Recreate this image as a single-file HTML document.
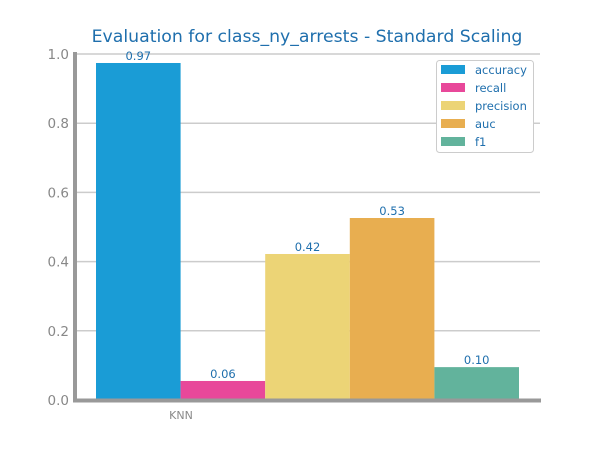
<!DOCTYPE html>
<html><head><meta charset="utf-8"><style>
body{margin:0;background:#fff;font-family:"DejaVu Sans","Liberation Sans",sans-serif}
</style></head><body>
<svg id="c" width="600" height="450" xmlns="http://www.w3.org/2000/svg">
<text x="307" y="42" text-anchor="middle" font-size="17.3" fill="#1f6fad">Evaluation for class_ny_arrests - Standard Scaling</text>
<g id="grid"></g><g id="bars"></g><g id="ticks"></g>
<line x1="75" y1="52" x2="75" y2="402" stroke="#999" stroke-width="4"/>
<line x1="73" y1="400.5" x2="541" y2="400.5" stroke="#999" stroke-width="4"/>
<text x="181" y="419" text-anchor="middle" font-size="11" fill="#888">KNN</text>
<g>
<rect x="436.5" y="60.5" width="97" height="92" rx="3" fill="#fff" stroke="#ccc"/>
<g id="leg"></g>
</g>
</svg>
<script>
const metrics=["accuracy","recall","precision","auc","f1"];
const values=[0.974,0.055,0.422,0.526,0.095];
const labels=["0.97","0.06","0.42","0.53","0.10"];
const yTicks=[0,0.2,0.4,0.6,0.8,1.0];
const colors=["#1a9cd6","#e8489a","#ecd476","#e8ae50","#62b39c"];
const NS="http://www.w3.org/2000/svg";
const y=v=>400-v*346;
const x0=96,bw=84.6;
function mk(t,a,p){const e=document.createElementNS(NS,t);for(const k in a)e.setAttribute(k,a[k]);p.appendChild(e);return e;}
const grid=document.getElementById('grid'),ticks=document.getElementById('ticks'),bars=document.getElementById('bars'),leg=document.getElementById('leg');
yTicks.forEach(v=>{
 if(v>0){const l=mk('line',{x1:75,x2:540,y1:y(v),y2:y(v),stroke:'#ccc','stroke-width':1.5},grid);
 
 }
 const t=mk('text',{x:69,y:y(v)+5,'text-anchor':'end','font-size':13.5,fill:'#888'},ticks);
 t.textContent=v.toFixed(1);
 
 
});
values.forEach((v,i)=>{
 const r=mk('rect',{x:x0+i*bw,y:y(v),width:bw,height:400-y(v),fill:colors[i]},bars);
 
 
 const t=mk('text',{x:x0+i*bw+bw/2,y:y(v)-3,'text-anchor':'middle','font-size':11.5,fill:'#1f6fad'},bars);
 t.textContent=labels[i];
 
 
 const ly=65+i*18;
 const s=mk('rect',{x:441,y:ly,width:24,height:9,fill:colors[i]},leg);
 
 
 const lt=mk('text',{x:475,y:ly+9,'font-size':11.5,fill:'#1f6fad'},leg);
 lt.textContent=metrics[i];
 
 
});
</script>
</body></html>
